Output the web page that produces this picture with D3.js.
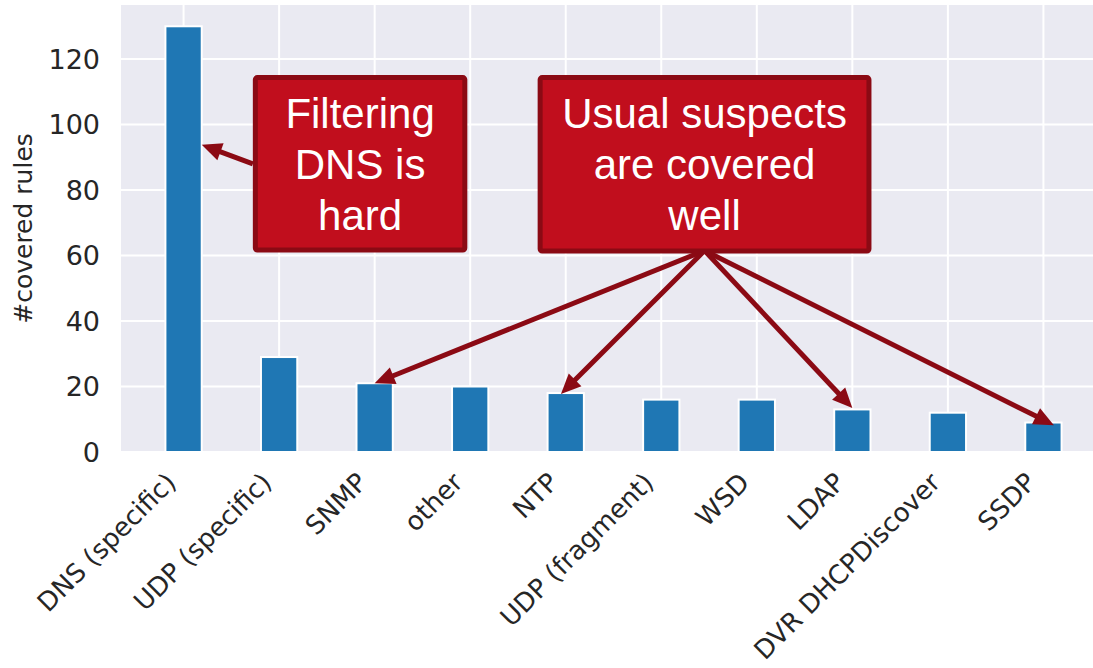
<!DOCTYPE html>
<html>
<head>
<meta charset="utf-8">
<script src="https://cdn.jsdelivr.net/npm/d3@7"></script>
<style>
  body { margin: 0; background: #fff; }
</style>
</head>
<body>
<div id="chart"></div>
<script>
// data
var categories = ["DNS (specific)", "UDP (specific)", "SNMP", "other", "NTP",
                  "UDP (fragment)", "WSD", "LDAP", "DVR DHCPDiscover", "SSDP"];
var covered = [130, 29, 21, 20, 18, 16, 16, 13, 12, 9];
var yTicks = [0, 20, 40, 60, 80, 100, 120];

// annotation boxes (data coords: category index / value)
var boxText = [["Filtering", "DNS is", "hard"], ["Usual suspects", "are covered", "well"]];
var boxX = [[0.725, 2.97], [3.706, 7.2]];
var boxY = [[115.1, 60.9], [115.1, 60.6]];

// arrows: start and tip in data coords
var arrowFrom = [[0.725, 88.0], [5.453, 61.5], [5.453, 61.5], [5.453, 61.5], [5.453, 61.5]];
var arrowTo = [[0.19, 93.8], [2.0, 21.0], [3.95, 17.7], [7.0, 13.4], [9.11, 8.2]];

var W = 1093, H = 668;

var svg = d3.select("#chart").append("svg")
    .attr("width", W)
    .attr("height", H)
    .style("font-family", "'DejaVu Sans', sans-serif");

var x = d3.scaleLinear().domain([-0.655, 9.655]).range([121, 1106]);
var y = d3.scaleLinear().domain([0, 136.5]).range([452, 5]);

// background
svg.append("rect")
    .attr("x", x.range()[0]).attr("y", y(136.5))
    .attr("width", x.range()[1] - x.range()[0])
    .attr("height", y(0) - y(136.5))
    .attr("fill", "#eaeaf2");

// grid
svg.append("g").selectAll("line")
    .data(yTicks)
    .enter().append("line")
    .attr("x1", x.range()[0]).attr("x2", x.range()[1])
    .attr("y1", function (d) { return y(d); })
    .attr("y2", function (d) { return y(d); })
    .attr("stroke", "#fff").attr("stroke-width", 2);

svg.append("g").selectAll("line")
    .data(categories)
    .enter().append("line")
    .attr("x1", function (d, i) { return x(i); })
    .attr("x2", function (d, i) { return x(i); })
    .attr("y1", y(0)).attr("y2", y(136.5))
    .attr("stroke", "#fff").attr("stroke-width", 2);

// bars
var bw = 0.38;
svg.append("g").selectAll("rect")
    .data(covered)
    .enter().append("rect")
    .attr("x", function (d, i) { return x(i - bw / 2); })
    .attr("width", x(bw) - x(0))
    .attr("y", function (d) { return y(d); })
    .attr("height", function (d) { return y(0) - y(d); })
    .attr("fill", "#1f77b4")
    .attr("stroke", "#fff")
    .attr("stroke-width", 2);

// y ticks
svg.append("g").selectAll("text")
    .data(yTicks)
    .enter().append("text")
    .attr("x", 100)
    .attr("y", function (d) { return y(d); })
    .attr("dy", "0.36em")
    .attr("text-anchor", "end")
    .attr("font-size", 27)
    .attr("fill", "#262626")
    .text(function (d) { return d; });

svg.append("text")
    .attr("transform", "translate(32," + ((y(0) + y(136.5)) / 2) + ") rotate(-90)")
    .attr("text-anchor", "middle")
    .attr("font-size", 25)
    .attr("fill", "#262626")
    .text("#covered rules");

// x tick labels
svg.append("g").selectAll("text")
    .data(categories)
    .enter().append("text")
    .attr("transform", function (d, i) {
        return "translate(" + (x(i) - 6) + ",484) rotate(-45)";
    })
    .attr("text-anchor", "end")
    .attr("font-size", 26)
    .attr("fill", "#262626")
    .text(function (d) { return d; });

// arrows
var arrowColor = "#8b0a14";
var ag = svg.append("g");
arrowFrom.forEach(function (f, k) {
    var x0 = x(f[0]), y0 = y(f[1]);
    var x1 = x(arrowTo[k][0]), y1 = y(arrowTo[k][1]);
    var dx = x1 - x0, dy = y1 - y0, len = Math.sqrt(dx * dx + dy * dy);
    var ux = dx / len, uy = dy / len;
    var hl = 20, hw = 9;
    var bx = x1 - ux * hl, by = y1 - uy * hl;
    ag.append("line")
        .attr("x1", x0).attr("y1", y0)
        .attr("x2", bx + ux * 2).attr("y2", by + uy * 2)
        .attr("stroke", arrowColor)
        .attr("stroke-width", 5);
    ag.append("path")
        .attr("d", "M" + x1 + "," + y1 +
            "L" + (bx - uy * hw) + "," + (by + ux * hw) +
            "L" + (bx + uy * hw) + "," + (by - ux * hw) + "Z")
        .attr("fill", arrowColor);
});

// boxes
boxText.forEach(function (lines, k) {
    var bx0 = x(boxX[k][0]), bx1 = x(boxX[k][1]);
    var by0 = y(boxY[k][0]), by1 = y(boxY[k][1]);
    var g = svg.append("g");
    g.append("rect")
        .attr("x", bx0 + 2.5).attr("y", by0 + 2.5)
        .attr("width", bx1 - bx0 - 5).attr("height", by1 - by0 - 5)
        .attr("rx", 2)
        .attr("fill", "#c10e1d")
        .attr("stroke", arrowColor)
        .attr("stroke-width", 5);
    g.selectAll("text")
        .data(lines)
        .enter().append("text")
        .attr("x", (bx0 + bx1) / 2)
        .attr("y", function (d, i) { return by0 + 53 + i * 51; })
        .attr("text-anchor", "middle")
        .attr("font-family", "'Liberation Sans', Arial, sans-serif")
        .attr("font-size", 42)
        .attr("fill", "#fff")
        .text(function (d) { return d; });
});
</script>
</body>
</html>
